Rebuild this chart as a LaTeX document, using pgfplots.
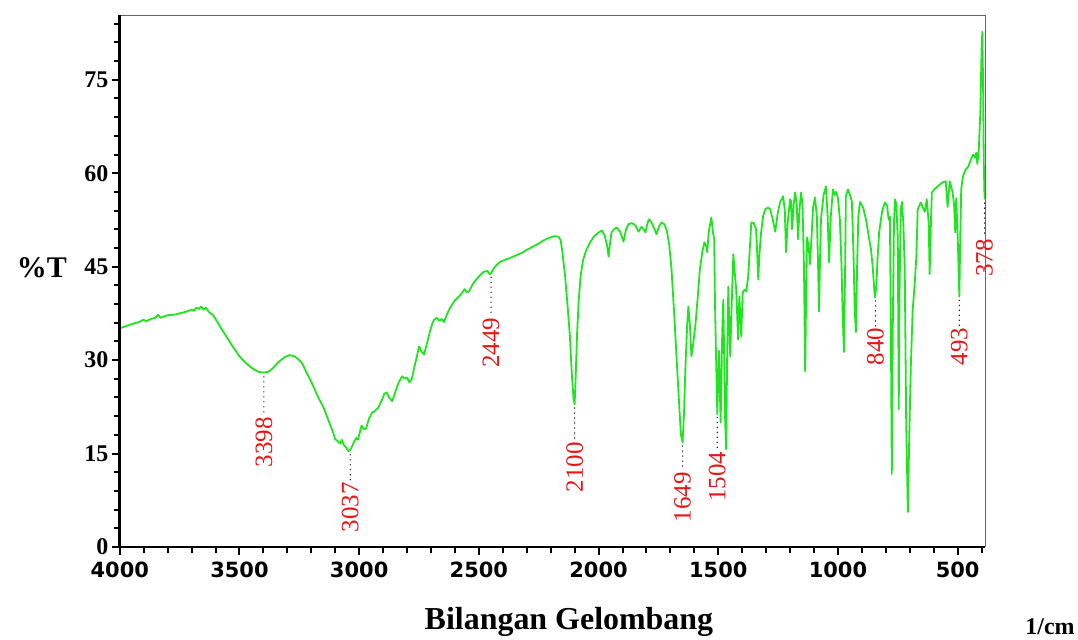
\documentclass[border=0pt]{standalone}
\usepackage{pgfplots}
\pgfplotsset{compat=1.18}
\usepackage{fontspec}
\setmainfont{Liberation Serif}
\newfontfamily\dejavu{DejaVu Sans}
\definecolor{irgreen}{RGB}{30,230,30}
\definecolor{pkred}{RGB}{235,20,20}
\newcommand\pk[4]{%
  \draw[black, line width=1.4pt, dash pattern=on 0pt off 5pt, line cap=round] (axis cs:#1,#2) -- (axis cs:#1,#3);
  \node[rotate=90, anchor=east, text=pkred, font=\fontsize{25}{25}\selectfont, inner sep=1pt] at (axis cs:#1,#3) {#4};
}
\begin{document}
\begin{tikzpicture}[x=1pt,y=1pt]
\path (0,0) rectangle (1078,640);
\begin{axis}[at={(120pt,92pt)}, anchor=south west, scale only axis, width=867pt, height=533pt,
 x dir=reverse, xmin=385, xmax=4000, ymin=0, ymax=85.4,
 axis x line*=bottom, axis y line*=left,
 axis line style={-, line width=2.6pt, black},
 xtick={500,1000,...,4000}, minor xtick={400,500,...,4000},
 ytick={0,15,...,75}, minor ytick={0,3,...,84},
 tick align=outside, major tick length=8pt, minor tick length=6pt,
 major tick style={black, line width=2pt},
 minor tick style={black, line width=2pt},
 xticklabel style={font=\dejavu\bfseries\fontsize{21}{21}\selectfont, yshift=-3pt},
 yticklabel style={font=\bfseries\fontsize{24}{24}\selectfont},
 /pgf/number format/.cd, 1000 sep={}, assume math mode=true, /pgfplots/.cd,
 clip=false,
]
\addplot[irgreen, line width=1.8pt, line join=round] coordinates {
(4000,35.1)(3970,35.5)(3940,35.9)(3920,36.1)(3900,36.5)(3890,36.2)(3870,36.6)(3850,36.8)(3840,37.3)(3830,36.8)(3800,37.2)(3770,37.3)(3750,37.5)(3720,37.8)(3700,38.1)(3690,37.9)(3680,38.4)(3670,38.2)(3660,38.6)(3650,38.1)(3640,38.4)(3625,37.6)(3610,37.2)(3600,36.6)(3575,35.0)(3550,33.5)(3529,32.2)(3500,30.6)(3470,29.4)(3440,28.5)(3420,28.1)(3400,28.0)(3380,28.1)(3360,28.7)(3340,29.6)(3310,30.5)(3290,30.8)(3270,30.6)(3250,30.0)(3237,29.4)(3220,28.0)(3200,26.5)(3180,24.8)(3167,23.7)(3150,22.5)(3130,20.5)(3110,18.5)(3100,17.3)(3090,17.0)(3080,16.6)(3072,17.2)(3065,16.4)(3055,16.0)(3045,15.4)(3037,15.6)(3028,16.3)(3020,17.0)(3012,17.5)(3005,17.2)(2998,18.3)(2990,19.5)(2980,18.9)(2971,19.0)(2960,20.5)(2946,21.6)(2935,21.8)(2920,22.4)(2905,23.6)(2895,24.6)(2885,24.8)(2875,24.0)(2862,23.4)(2850,24.8)(2835,26.4)(2821,27.4)(2810,27.0)(2800,27.2)(2790,26.4)(2780,27.0)(2770,28.8)(2760,30.4)(2750,32.2)(2740,31.4)(2729,30.9)(2718,32.5)(2705,34.5)(2695,35.8)(2687,36.5)(2675,36.8)(2665,36.3)(2655,36.6)(2646,36.1)(2635,37.2)(2620,38.4)(2600,39.6)(2583,40.2)(2570,40.8)(2560,41.4)(2550,40.9)(2542,41.0)(2525,42.2)(2510,43.0)(2495,43.6)(2479,44.2)(2465,44.3)(2455,43.8)(2449,43.9)(2440,44.6)(2425,45.3)(2410,45.8)(2390,46.1)(2370,46.4)(2346,46.8)(2320,47.2)(2300,47.7)(2275,48.2)(2250,48.7)(2230,49.2)(2208,49.6)(2185,49.9)(2167,49.8)(2158,49.2)(2150,47.0)(2140,43.5)(2130,39.0)(2120,34.0)(2112,28.0)(2105,24.0)(2100,22.9)(2095,28.0)(2090,34.0)(2083,39.5)(2075,43.5)(2065,46.0)(2050,47.8)(2035,48.9)(2020,49.8)(2000,50.5)(1985,50.8)(1975,50.0)(1965,48.5)(1958,46.6)(1952,48.8)(1946,50.5)(1935,51.0)(1925,51.3)(1910,50.6)(1900,49.5)(1896,49.0)(1885,51.0)(1875,51.8)(1860,52.0)(1846,51.6)(1833,50.6)(1821,51.4)(1812,51.0)(1804,50.5)(1797,51.8)(1790,52.6)(1780,52.2)(1771,51.4)(1764,50.8)(1758,50.2)(1748,51.4)(1737,52.1)(1725,51.8)(1715,50.8)(1705,48.5)(1696,45.0)(1685,38.0)(1675,31.0)(1665,24.0)(1656,18.0)(1649,16.8)(1643,21.5)(1637,29.0)(1630,35.5)(1625,38.6)(1619,36.0)(1612,30.6)(1605,32.5)(1596,35.4)(1586,40.0)(1577,44.5)(1566,47.5)(1558,48.9)(1550,48.2)(1546,47.3)(1540,50.5)(1533,52.0)(1529,52.9)(1522,50.5)(1517,49.4)(1514,40.0)(1510,32.0)(1506,25.0)(1504,21.3)(1500,28.0)(1497,31.5)(1494,26.0)(1490,20.0)(1487,27.0)(1483,35.0)(1479,39.7)(1475,30.0)(1471,20.0)(1467,15.7)(1463,30.0)(1458,41.8)(1454,36.0)(1450,30.6)(1443,40.0)(1437,47.0)(1431,44.0)(1425,41.3)(1417,33.3)(1412,40.2)(1408,37.0)(1404,33.8)(1398,40.9)(1390,41.3)(1383,41.0)(1375,43.4)(1368,48.0)(1362,52.1)(1352,52.0)(1342,51.0)(1337,47.0)(1333,42.9)(1328,47.0)(1321,50.5)(1313,53.0)(1304,54.2)(1292,54.5)(1283,54.2)(1272,52.5)(1262,50.6)(1252,53.5)(1242,55.3)(1229,56.3)(1222,54.0)(1217,47.3)(1210,52.0)(1200,55.8)(1196,55.5)(1192,51.0)(1185,55.0)(1179,56.9)(1172,55.0)(1167,49.4)(1160,54.5)(1154,56.9)(1148,55.0)(1142,45.0)(1137,28.2)(1133,40.0)(1129,49.7)(1122,48.0)(1117,45.4)(1110,50.0)(1104,54.5)(1096,56.1)(1088,53.0)(1083,45.0)(1079,37.8)(1075,46.0)(1071,52.6)(1060,56.5)(1050,57.9)(1043,53.0)(1037,45.7)(1030,53.0)(1021,57.4)(1013,56.5)(1008,57.0)(1000,56.0)(992,52.6)(985,45.0)(980,37.0)(975,31.3)(970,45.0)(967,56.3)(958,57.4)(950,56.5)(942,55.5)(935,47.0)(930,38.0)(925,34.5)(920,45.0)(915,53.0)(908,55.4)(895,54.5)(883,52.6)(872,50.0)(862,47.8)(855,45.0)(846,40.1)(840,41.5)(835,46.0)(828,50.5)(815,54.0)(804,55.3)(795,54.8)(788,52.5)(783,53.0)(779,35.0)(775,11.7)(771,35.0)(766,52.0)(762,55.8)(756,55.0)(750,49.4)(748,35.0)(746,22.1)(743,40.0)(738,54.0)(733,55.4)(727,52.0)(721,44.6)(715,20.0)(708,5.6)(702,18.0)(696,28.5)(688,38.0)(679,42.5)(672,47.0)(667,54.2)(654,55.3)(645,54.5)(637,53.8)(629,55.8)(621,52.0)(617,43.8)(613,50.0)(608,56.9)(595,57.5)(583,57.9)(565,58.5)(550,58.7)(542,54.6)(533,58.7)(521,56.9)(515,55.0)(510,50.5)(506,56.0)(500,50.0)(493,40.2)(489,50.0)(485,57.5)(478,59.5)(468,60.5)(455,61.1)(445,62.2)(435,63.0)(428,62.5)(422,63.3)(418,61.5)(412,63.5)(405,70.0)(400,80.0)(397,82.7)(394,75.0)(391,62.0)(388,56.5)(386,55.8)
};
\draw[black!60, line width=0.9pt] (rel axis cs:0,1) -- (rel axis cs:1,1) -- (rel axis cs:1,0);
\draw[black, line width=2.8pt] (rel axis cs:0,1) -- (rel axis cs:0,0) -- (rel axis cs:1,0);
\pk{3398}{27.3}{21.0}{3398}
\pk{3037}{14.8}{10.6}{3037}
\pk{2449}{43.3}{37.0}{2449}
\pk{2100}{22.3}{17.0}{2100}
\pk{1649}{16.2}{12.2}{1649}
\pk{1504}{20.8}{15.5}{1504}
\pk{843}{39.5}{35.4}{840}
\pk{493}{39.6}{35.4}{493}
\pk{388}{55.2}{49.6}{378}
\end{axis}
\node[font=\bfseries\fontsize{30}{30}\selectfont] at (42,372) {\%T};
\node[font=\bfseries\fontsize{32}{32}\selectfont] at (570,17) {Bilangan Gelombang};
\node[font=\bfseries\fontsize{24}{24}\selectfont] at (1052,12) {1/cm};
\end{tikzpicture}
\end{document}
